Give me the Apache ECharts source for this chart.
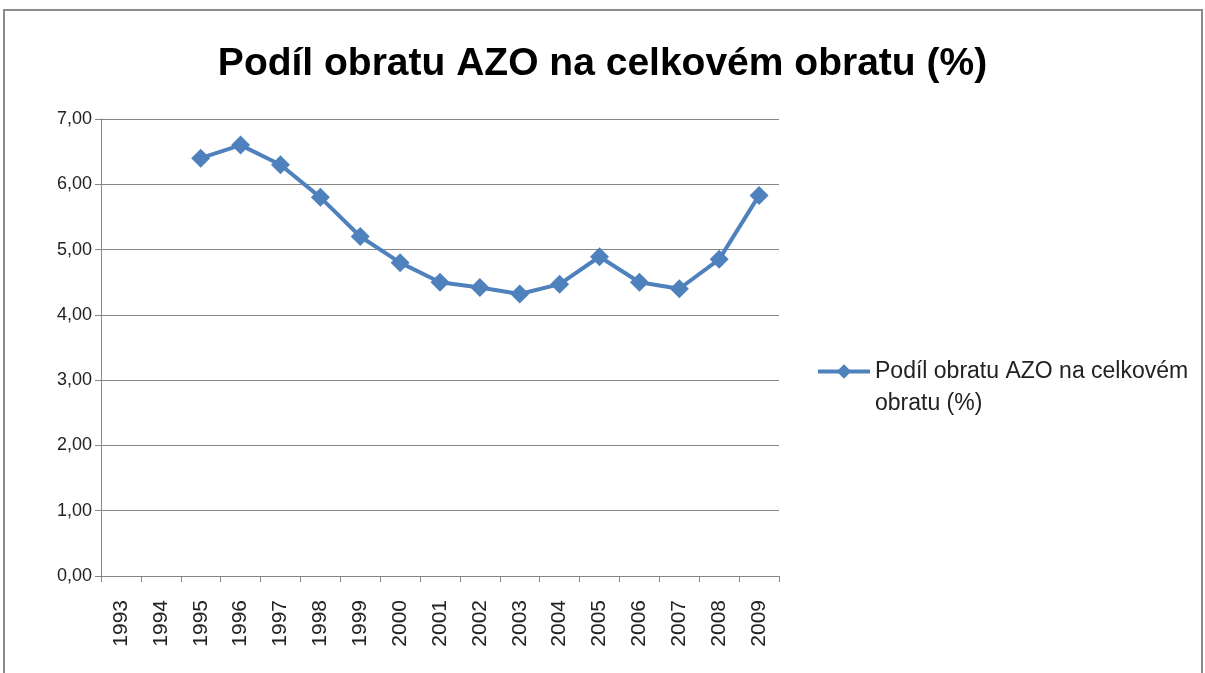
<!DOCTYPE html>
<html>
<head>
<meta charset="utf-8">
<script src="https://cdn.jsdelivr.net/npm/echarts@6/dist/echarts.min.js"></script>
<style>
  html, body { margin: 0; padding: 0; background: #fff; }
  #chart { width: 1205px; height: 673px; }
</style>
</head>
<body>
<div id="chart"></div>
<script>
var years = ['1993', '1994', '1995', '1996', '1997', '1998', '1999', '2000', '2001',
  '2002', '2003', '2004', '2005', '2006', '2007', '2008', '2009']
// podil v %, 1993 a 1994 bez hodnot
var podil = [null, null, 6.40, 6.60, 6.30, 5.80, 5.20, 4.80, 4.50,
  4.42, 4.32, 4.47, 4.89, 4.50, 4.40, 4.85, 5.83]
var seriesName = 'Podíl obratu AZO na celkovém obratu (%)'

var chart = echarts.init(document.getElementById('chart'))
chart.setOption({
  animation: false,
  graphic: [{
    type: 'rect',
    shape: { x: 4, y: 10, width: 1198, height: 680 },
    style: { fill: 'none', stroke: '#8c8c8c', lineWidth: 2 }
  }, {
    // druhy radek popisku legendy (ikona zustava u prvniho radku)
    type: 'text',
    left: 875,
    top: 392,
    style: {
      text: 'obratu (%)',
      fontFamily: 'Liberation Sans',
      fontSize: 23,
      fill: '#222'
    }
  }],
  title: {
    text: seriesName,
    left: 'center',
    top: 40,
    textStyle: {
      fontFamily: 'Liberation Sans',
      fontWeight: 'bold',
      fontSize: 39,
      color: '#000'
    }
  },
  legend: {
    orient: 'vertical',
    left: 811,
    top: 355,
    itemWidth: 52,
    itemHeight: 18,
    lineStyle: { width: 4 },
    formatter: function () {
      return 'Podíl obratu AZO na celkovém'
    },
    textStyle: {
      fontFamily: 'Liberation Sans',
      fontSize: 23,
      color: '#222'
    },
    data: [seriesName]
  },
  grid: {
    left: 101,
    top: 119,
    width: 678,
    height: 457,
    containLabel: false
  },
  xAxis: {
    type: 'category',
    data: years,
    boundaryGap: true,
    axisLine: { lineStyle: { color: '#868686', width: 1 } },
    axisTick: { show: true, alignWithLabel: false, length: 6, lineStyle: { color: '#868686' } },
    axisLabel: {
      rotate: 90,
      margin: 24,
      interval: 0,
      fontFamily: 'Liberation Sans',
      fontSize: 21,
      color: '#222'
    }
  },
  yAxis: {
    type: 'value',
    min: 0,
    max: 7,
    interval: 1,
    axisLine: { show: true, lineStyle: { color: '#868686', width: 1 } },
    axisTick: { show: true, length: 6, lineStyle: { color: '#868686' } },
    splitLine: { lineStyle: { color: '#868686', width: 1 } },
    axisLabel: {
      margin: 9,
      fontFamily: 'Liberation Sans',
      fontSize: 18,
      color: '#222',
      formatter: function (v) { return v.toFixed(2).replace('.', ',') }
    }
  },
  series: [{
    name: seriesName,
    type: 'line',
    data: podil,
    symbol: 'diamond',
    symbolSize: 19,
    connectNulls: false,
    lineStyle: { color: '#4f81bd', width: 4 },
    itemStyle: { color: '#4f81bd' }
  }]
})
</script>
</body>
</html>
